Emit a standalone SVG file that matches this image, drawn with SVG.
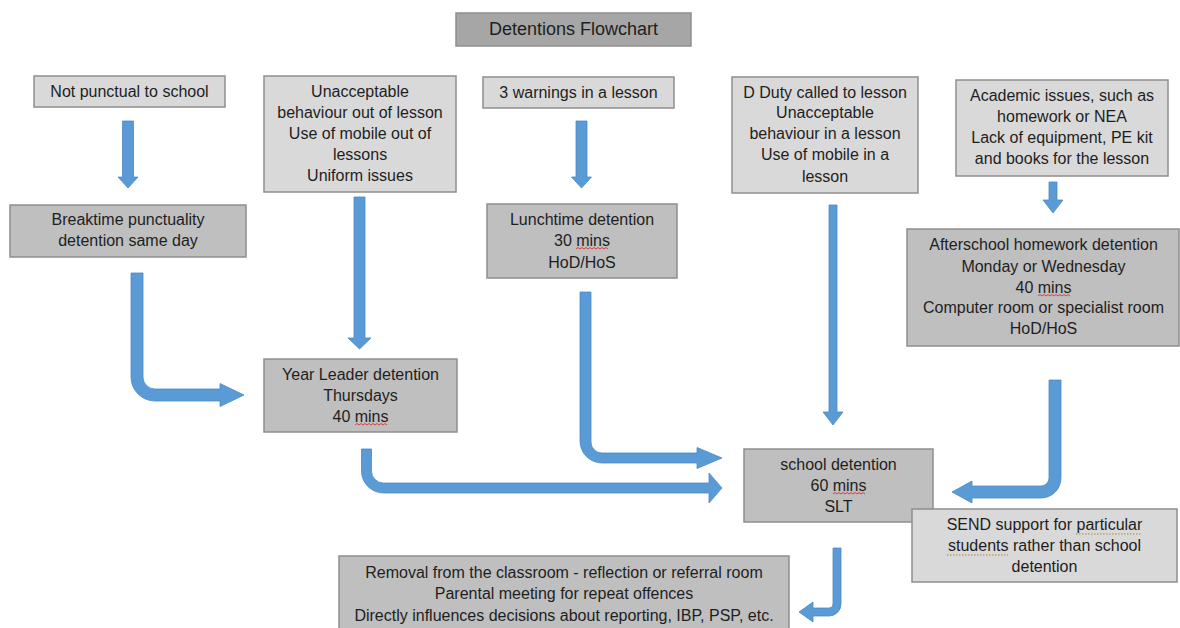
<svg xmlns="http://www.w3.org/2000/svg" width="1180" height="628" viewBox="0 0 1180 628">
<style>
  .lt { fill: #d9d9d9; stroke: #8e8e8e; stroke-width: 1.5; }
  .dk { fill: #bfbfbf; stroke: #8e8e8e; stroke-width: 1.5; }
  .tt { fill: #a6a6a6; stroke: #8e8e8e; stroke-width: 1.5; }
  text { font-family: "Liberation Sans", Arial, sans-serif; font-size: 16px; fill: #1e1e1e; text-anchor: middle; }
  .title { font-size: 18px; }
  .arr { fill: #5b9bd5; stroke: #4d89c4; stroke-width: 0.8; stroke-linejoin: miter; }
  .spell { fill: none; stroke: #e03030; stroke-width: 0.9; }
  .gram { fill: none; stroke: #b08a2e; stroke-width: 1.2; stroke-dasharray: 1.5 1.5; }
</style>
<rect width="1180" height="628" fill="#ffffff"/>

<g id="title">
  <rect class="tt" x="456" y="13" width="235" height="33"/>
  <text class="title" x="573.5" y="35">Detentions Flowchart</text>
</g>

<g id="connectors">
  <path class="arr" d="M122.5,121 H133.5 V177 H138 L128,188 L118,177 H122.5 Z"/>
  <path class="arr" d="M354,197 H365 V338 H371 L359.5,349 L348,338 H354 Z"/>
  <path class="arr" d="M576,121 H587 V177 H591.5 L581.5,188 L571.5,177 H576 Z"/>
  <path class="arr" d="M1049,182 H1057 V200 H1063 L1053,213 L1043,200 H1049 Z"/>
  <path class="arr" d="M829,205 H837 V412 H843 L833,425 L823,412 H829 Z"/>
  <path class="arr" d="M131,273 H143 V377 A12,12 0 0 0 155,389 H220 V383.5 L244,395 L220,406.5 V401 H155 A24,24 0 0 1 131,377 Z"/>
  <path class="arr" d="M580,292 H591 V442 A11,11 0 0 0 602,453 H697 V447.5 L722,458 L697,468.5 V463 H602 A22,22 0 0 1 580,441 Z"/>
  <path class="arr" d="M361.5,449 H371.5 V471 A12,12 0 0 0 383.5,483 H709 V473 L722,488 L709,503 V493 H383.5 A22,22 0 0 1 361.5,471 Z"/>
  <path class="arr" d="M1049,380 H1061 V478 A20,20 0 0 1 1041,498 H972 V503 L952,492 L972,481 V486 H1041 A8,8 0 0 0 1049,478 Z"/>
  <path class="arr" d="M833,548 H841 V604 A12,12 0 0 1 829,616 H813 V622 L799,612 L813,602 V608 H829 A4,4 0 0 0 833,604 Z"/>
</g>

<g id="not-punctual">
  <rect class="lt" x="34" y="76" width="191" height="31"/>
  <text x="129.5" y="97">Not punctual to school</text>
</g>

<g id="unacceptable-out">
  <rect class="lt" x="264" y="76" width="192" height="116"/>
  <text><tspan x="360" y="97">Unacceptable</tspan><tspan x="360" y="118">behaviour out of lesson</tspan><tspan x="360" y="139">Use of mobile out of</tspan><tspan x="360" y="160">lessons</tspan><tspan x="360" y="181">Uniform issues</tspan></text>
</g>

<g id="three-warnings">
  <rect class="lt" x="483" y="77" width="191" height="31"/>
  <text x="578.5" y="98">3 warnings in a lesson</text>
</g>

<g id="d-duty">
  <rect class="lt" x="732" y="77" width="186" height="116"/>
  <text><tspan x="825" y="98">D Duty called to lesson</tspan><tspan x="825" y="118">Unacceptable</tspan><tspan x="825" y="139">behaviour in a lesson</tspan><tspan x="825" y="160">Use of mobile in a</tspan><tspan x="825" y="182">lesson</tspan></text>
</g>

<g id="academic">
  <rect class="lt" x="956" y="80" width="212" height="96"/>
  <text><tspan x="1062" y="101">Academic issues, such as</tspan><tspan x="1062" y="122">homework or NEA</tspan><tspan x="1062" y="143">Lack of equipment, PE kit</tspan><tspan x="1062" y="164">and books for the lesson</tspan></text>
</g>

<g id="breaktime">
  <rect class="dk" x="10" y="205" width="236" height="52"/>
  <text><tspan x="128" y="225">Breaktime punctuality</tspan><tspan x="128" y="246">detention same day</tspan></text>
</g>

<g id="lunchtime">
  <rect class="dk" x="487" y="204" width="190" height="74"/>
  <text><tspan x="582" y="225">Lunchtime detention</tspan><tspan x="582" y="246">30 mins</tspan><tspan x="582" y="268">HoD/HoS</tspan></text>
  <path class="spell" d="M576,249 l2,-1.5 l2,1.5 l2,-1.5 l2,1.5 l2,-1.5 l2,1.5 l2,-1.5 l2,1.5 l2,-1.5 l2,1.5 l2,-1.5 l2,1.5 l2,-1.5 l2,1.5 l2,-1.5 l2,1.5"/>
</g>

<g id="afterschool">
  <rect class="dk" x="907" y="229" width="272" height="117"/>
  <text><tspan x="1043.5" y="250">Afterschool homework detention</tspan><tspan x="1043.5" y="272">Monday or Wednesday</tspan><tspan x="1043.5" y="293">40 mins</tspan><tspan x="1043.5" y="313">Computer room or specialist room</tspan><tspan x="1043.5" y="334">HoD/HoS</tspan></text>
  <path class="spell" d="M1038,296 l2,-1.5 l2,1.5 l2,-1.5 l2,1.5 l2,-1.5 l2,1.5 l2,-1.5 l2,1.5 l2,-1.5 l2,1.5 l2,-1.5 l2,1.5 l2,-1.5 l2,1.5 l2,-1.5 l2,1.5"/>
</g>

<g id="year-leader">
  <rect class="dk" x="264" y="359" width="193" height="73"/>
  <text><tspan x="360.5" y="380">Year Leader detention</tspan><tspan x="360.5" y="401">Thursdays</tspan><tspan x="360.5" y="422">40 mins</tspan></text>
  <path class="spell" d="M355,425 l2,-1.5 l2,1.5 l2,-1.5 l2,1.5 l2,-1.5 l2,1.5 l2,-1.5 l2,1.5 l2,-1.5 l2,1.5 l2,-1.5 l2,1.5 l2,-1.5 l2,1.5 l2,-1.5 l2,1.5"/>
</g>

<g id="school-detention">
  <rect class="dk" x="744" y="449" width="189" height="73"/>
  <text><tspan x="838.5" y="470">school detention</tspan><tspan x="838.5" y="491">60 mins</tspan><tspan x="838.5" y="512">SLT</tspan></text>
  <path class="spell" d="M833,494 l2,-1.5 l2,1.5 l2,-1.5 l2,1.5 l2,-1.5 l2,1.5 l2,-1.5 l2,1.5 l2,-1.5 l2,1.5 l2,-1.5 l2,1.5 l2,-1.5 l2,1.5 l2,-1.5 l2,1.5"/>
</g>

<g id="send-support">
  <rect class="lt" x="912" y="509" width="265" height="73"/>
  <text><tspan x="1044.5" y="530">SEND support for particular</tspan><tspan x="1044.5" y="551">students rather than school</tspan><tspan x="1044.5" y="572">detention</tspan></text>
  <path class="gram" d="M1076,534 H1142"/>
  <path class="gram" d="M947,555 H1008"/>
</g>

<g id="removal">
  <rect class="dk" x="339" y="556" width="450" height="80"/>
  <text><tspan x="564" y="578">Removal from the classroom - reflection or referral room</tspan><tspan x="564" y="599">Parental meeting for repeat offences</tspan><tspan x="564" y="621">Directly influences decisions about reporting, IBP, PSP, etc.</tspan></text>
</g>
</svg>
